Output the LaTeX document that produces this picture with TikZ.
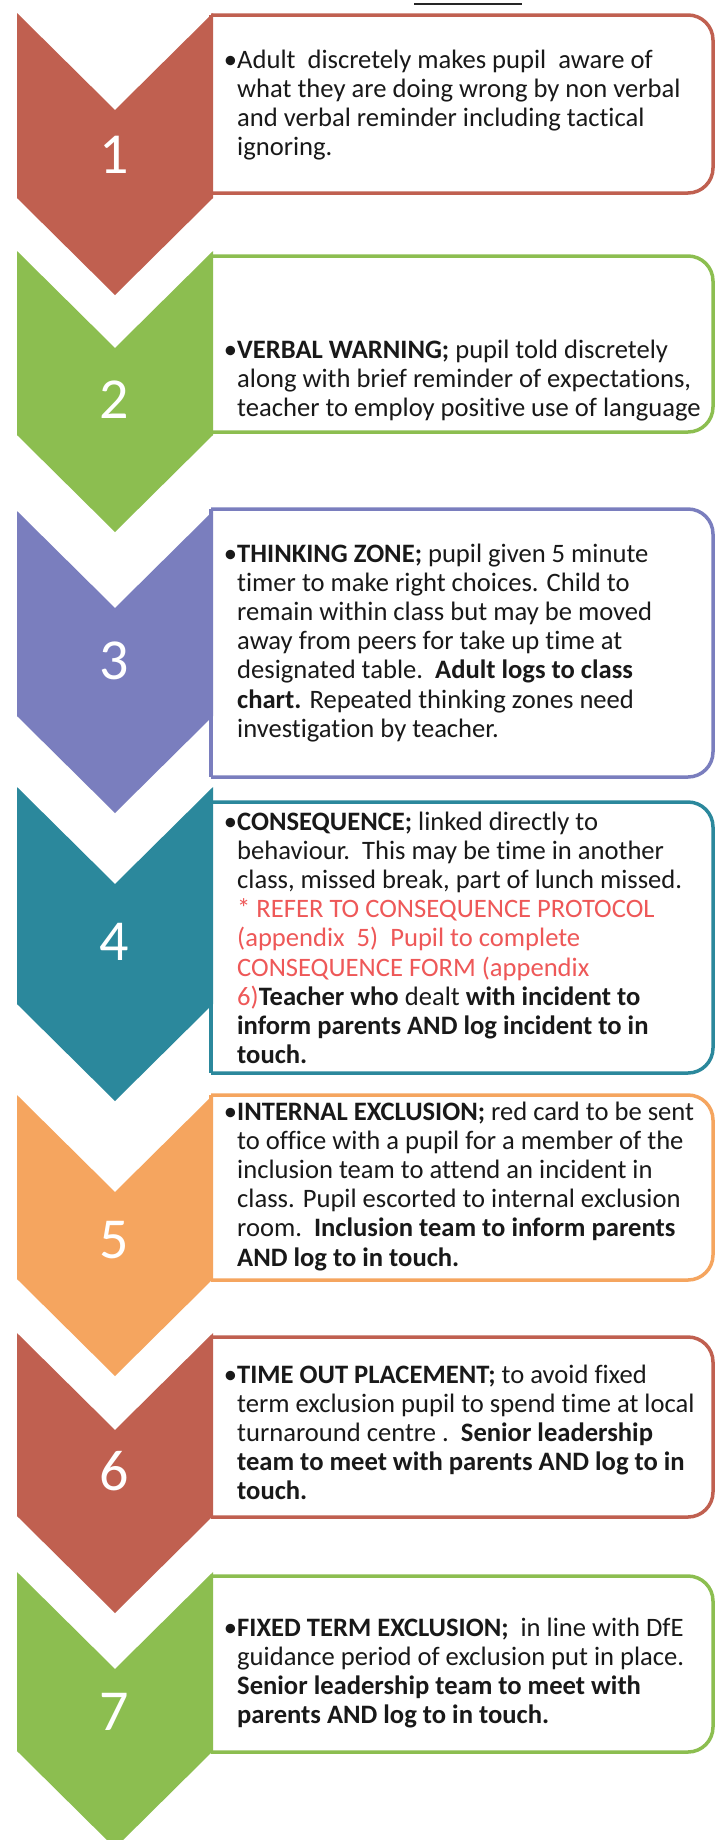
\documentclass[tikz,border=0pt]{standalone}
\usepackage{fontspec}
\setmainfont{Carlito}[Ligatures=NoCommon]
\definecolor{cRed}{RGB}{192,96,80}
\definecolor{cGreen}{RGB}{140,190,80}
\definecolor{cPurple}{RGB}{122,126,190}
\definecolor{cTeal}{RGB}{43,136,156}
\definecolor{cOrange}{RGB}{245,165,95}
\definecolor{cPink}{RGB}{238,88,88}
\definecolor{txt}{RGB}{25,25,25}
\newcommand{\Lines}[1]{\vtop{\baselineskip=29.2pt\lineskiplimit=-1000pt\lineskip=0pt #1}}
\newcommand{\Ln}[1]{\hbox{#1}}
\newcommand{\chev}[3]{%
  \fill[#1] (17,#2) -- (115,#2+97) -- (213,#2) -- (213,#3-97) -- (115,#3) -- (17,#3-97) -- cycle;}
\newcommand{\rbox}[3]{%
  \filldraw[boxline, draw=#1] (211,#2) -- (713,#2) -- (713,#3) -- (211,#3);
  \draw[boxline, draw=#1, rounded corners=0pt] (211,#2) -- (211,#3);}
\tikzset{
  boxline/.style={fill=white, line width=3.5pt, rounded corners=25pt},
  num/.style={text=white, inner sep=0pt, font=\fontsize{58}{58}\selectfont},
  body/.style={anchor=base west, inner sep=0pt, text=txt, font=\fontsize{26.6}{29.2}\selectfont}
}
\begin{document}
\begin{tikzpicture}[x=1pt,y=-1pt]
\fill[white] (0,0) rectangle (718,1840);
\useasboundingbox (0,0) rectangle (718,1840);
\coordinate (ulA) at (414,4);
\coordinate (ulB) at (522,4);
\draw[line width=2.5pt, black!85] (ulA) -- (ulB);
% boxes
\rbox{cRed}{15}{193}
\rbox{cGreen}{256}{432}
\rbox{cPurple}{509}{777}
\rbox{cTeal}{802}{1073}
\rbox{cOrange}{1095}{1280}
\rbox{cRed}{1337}{1517}
\rbox{cGreen}{1576}{1752}
% chevrons
\chev{cRed}{13}{295}
\chev{cGreen}{251}{532}
\chev{cPurple}{511}{813}
\chev{cTeal}{787}{1101}
\chev{cOrange}{1095}{1376}
\chev{cRed}{1333}{1613}
\chev{cGreen}{1572}{1848}
% numbers
\node[num] (n1) at (114,155) {1};
\node[num] (n2) at (114,400) {2};
\node[num] (n3) at (114,661) {3};
\node[num] (n4) at (114,942) {4};
\node[num] (n5) at (114,1240) {5};
\node[num] (n6) at (114,1471) {6};
\node[num] (n7) at (114,1712) {7};
% texts
\node[body] (t1) at (237,68) {\Lines{%
\Ln{\llap{•}Adult\ \ discretely makes pupil\ \ aware of}%
\Ln{what they are doing wrong by non verbal}%
\Ln{and verbal reminder including tactical}%
\Ln{ignoring.}}};
\node[body] (t2) at (237,358) {\Lines{%
\Ln{\llap{•}\textbf{VERBAL WARNING;} pupil told discretely}%
\Ln{along with brief reminder of expectations,}%
\Ln{teacher to employ positive use of language}}};
\node[body] (t3) at (237,562) {\Lines{%
\Ln{\llap{•}\textbf{THINKING ZONE;} pupil given 5 minute}%
\Ln{timer to make right choices. Child to}%
\Ln{remain within class but may be moved}%
\Ln{away from peers for take up time at}%
\Ln{designated table.\ \ \textbf{Adult logs to class}}%
\Ln{\textbf{chart.} Repeated thinking zones need}%
\Ln{investigation by teacher.}}};
\node[body] (t4) at (237,830) {\Lines{%
\Ln{\llap{•}\textbf{CONSEQUENCE;} linked directly to}%
\Ln{behaviour.\ \ This may be time in another}%
\Ln{class, missed break, part of lunch missed.}%
\Ln{\color{cPink}* REFER TO CONSEQUENCE PROTOCOL}%
\Ln{\color{cPink}(appendix\ \ 5)\ \ Pupil to complete}%
\Ln{\color{cPink}CONSEQUENCE FORM (appendix}%
\Ln{{\color{cPink}6)}\textbf{Teacher who} dealt \textbf{with incident to}}%
\Ln{\textbf{inform parents AND log incident to in}}%
\Ln{\textbf{touch.}}}};
\node[body] (t5) at (237,1120) {\Lines{%
\Ln{\llap{•}\textbf{INTERNAL EXCLUSION;} red card to be sent}%
\Ln{to office with a pupil for a member of the}%
\Ln{inclusion team to attend an incident in}%
\Ln{class. Pupil escorted to internal exclusion}%
\Ln{room.\ \ \textbf{Inclusion team to inform parents}}%
\Ln{\textbf{AND log to in touch.}}}};
\node[body] (t6) at (237,1383) {\Lines{%
\Ln{\llap{•}\textbf{TIME OUT PLACEMENT;} to avoid fixed}%
\Ln{term exclusion pupil to spend time at local}%
\Ln{turnaround centre .\ \ \textbf{Senior leadership}}%
\Ln{\textbf{team to meet with parents AND log to in}}%
\Ln{\textbf{touch.}}}};
\node[body] (t7) at (237,1636) {\Lines{%
\Ln{\llap{•}\textbf{FIXED TERM EXCLUSION;}\ \ in line with DfE}%
\Ln{guidance period of exclusion put in place.}%
\Ln{\textbf{Senior leadership team to meet with}}%
\Ln{\textbf{parents AND log to in touch.}}}};
\end{tikzpicture}
\end{document}
